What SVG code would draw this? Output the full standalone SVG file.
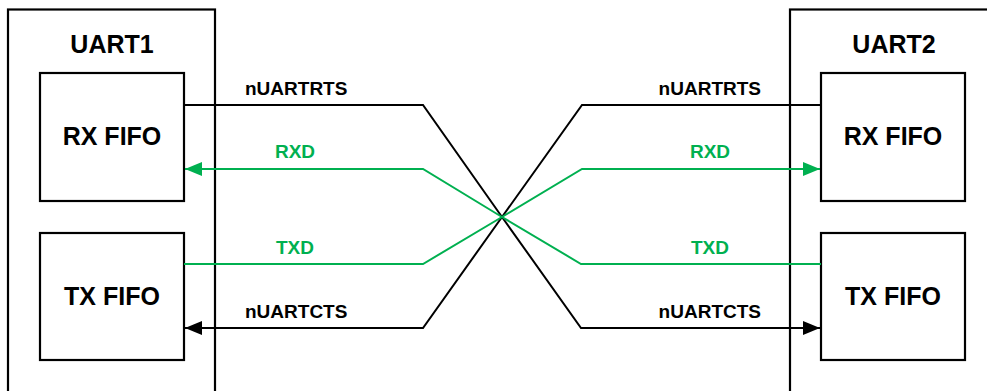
<svg xmlns="http://www.w3.org/2000/svg" width="987" height="391" viewBox="0 0 987 391">
<style>
.box{fill:none;stroke:#000;stroke-width:2.2}
.outer{fill:none;stroke:#000;stroke-width:2.2}
.t{font-family:"Liberation Sans",Arial,sans-serif;font-weight:bold;fill:#000}
.big{font-size:25px}
.sig{font-size:19px}
.g{fill:#00b050}
.wk{fill:none;stroke:#000;stroke-width:2}
.wg{fill:none;stroke:#00b050;stroke-width:2}
</style>
<defs>
<marker id="ak" markerUnits="userSpaceOnUse" markerWidth="18" markerHeight="14" refX="17" refY="7" orient="auto">
<path d="M0,0 L17,7 L0,14 Z" fill="#000"/>
</marker>
<marker id="ag" markerUnits="userSpaceOnUse" markerWidth="18" markerHeight="14" refX="17" refY="7" orient="auto">
<path d="M0,0 L17,7 L0,14 Z" fill="#00b050"/>
</marker>
</defs>
<rect width="987" height="391" fill="#fff"/>
<g id="uart1">
<rect class="outer" x="8" y="9.5" width="207" height="400"/>
<text class="t big" x="112" y="53" text-anchor="middle">UART1</text>
</g>
<g id="uart1-rx">
<rect class="box" x="40" y="73" width="144" height="128"/>
<text class="t big" x="112" y="145" text-anchor="middle">RX FIFO</text>
</g>
<g id="uart1-tx">
<rect class="box" x="40" y="233" width="144" height="127"/>
<text class="t big" x="112" y="305" text-anchor="middle">TX FIFO</text>
</g>
<g id="uart2">
<rect class="outer" x="790" y="9.5" width="220" height="400"/>
<text class="t big" x="894" y="53" text-anchor="middle">UART2</text>
</g>
<g id="uart2-rx">
<rect class="box" x="821" y="73" width="144" height="128"/>
<text class="t big" x="893" y="145" text-anchor="middle">RX FIFO</text>
</g>
<g id="uart2-tx">
<rect class="box" x="821" y="233" width="144" height="127"/>
<text class="t big" x="893" y="305" text-anchor="middle">TX FIFO</text>
</g>
<g id="connectors">
<polyline class="wk" points="184,105 423,105 502,217 581,328 820,328" marker-end="url(#ak)"/>
<polyline class="wk" points="821,105 582,105 502,217 423,328 185,328" marker-end="url(#ak)"/>
<polyline class="wg" points="821,264 581,264 502,217 423,169 185,169" marker-end="url(#ag)"/>
<polyline class="wg" points="184,264 423,264 502,217 582,169 820,169" marker-end="url(#ag)"/>
<text class="t sig" x="245" y="95">nUARTRTS</text>
<text class="t sig g" x="295" y="158" text-anchor="middle">RXD</text>
<text class="t sig g" x="295" y="254" text-anchor="middle">TXD</text>
<text class="t sig" x="245" y="318">nUARTCTS</text>
<text class="t sig" x="761" y="95" text-anchor="end">nUARTRTS</text>
<text class="t sig g" x="710" y="158" text-anchor="middle">RXD</text>
<text class="t sig g" x="710" y="254" text-anchor="middle">TXD</text>
<text class="t sig" x="761" y="318" text-anchor="end">nUARTCTS</text>
</g>
</svg>
